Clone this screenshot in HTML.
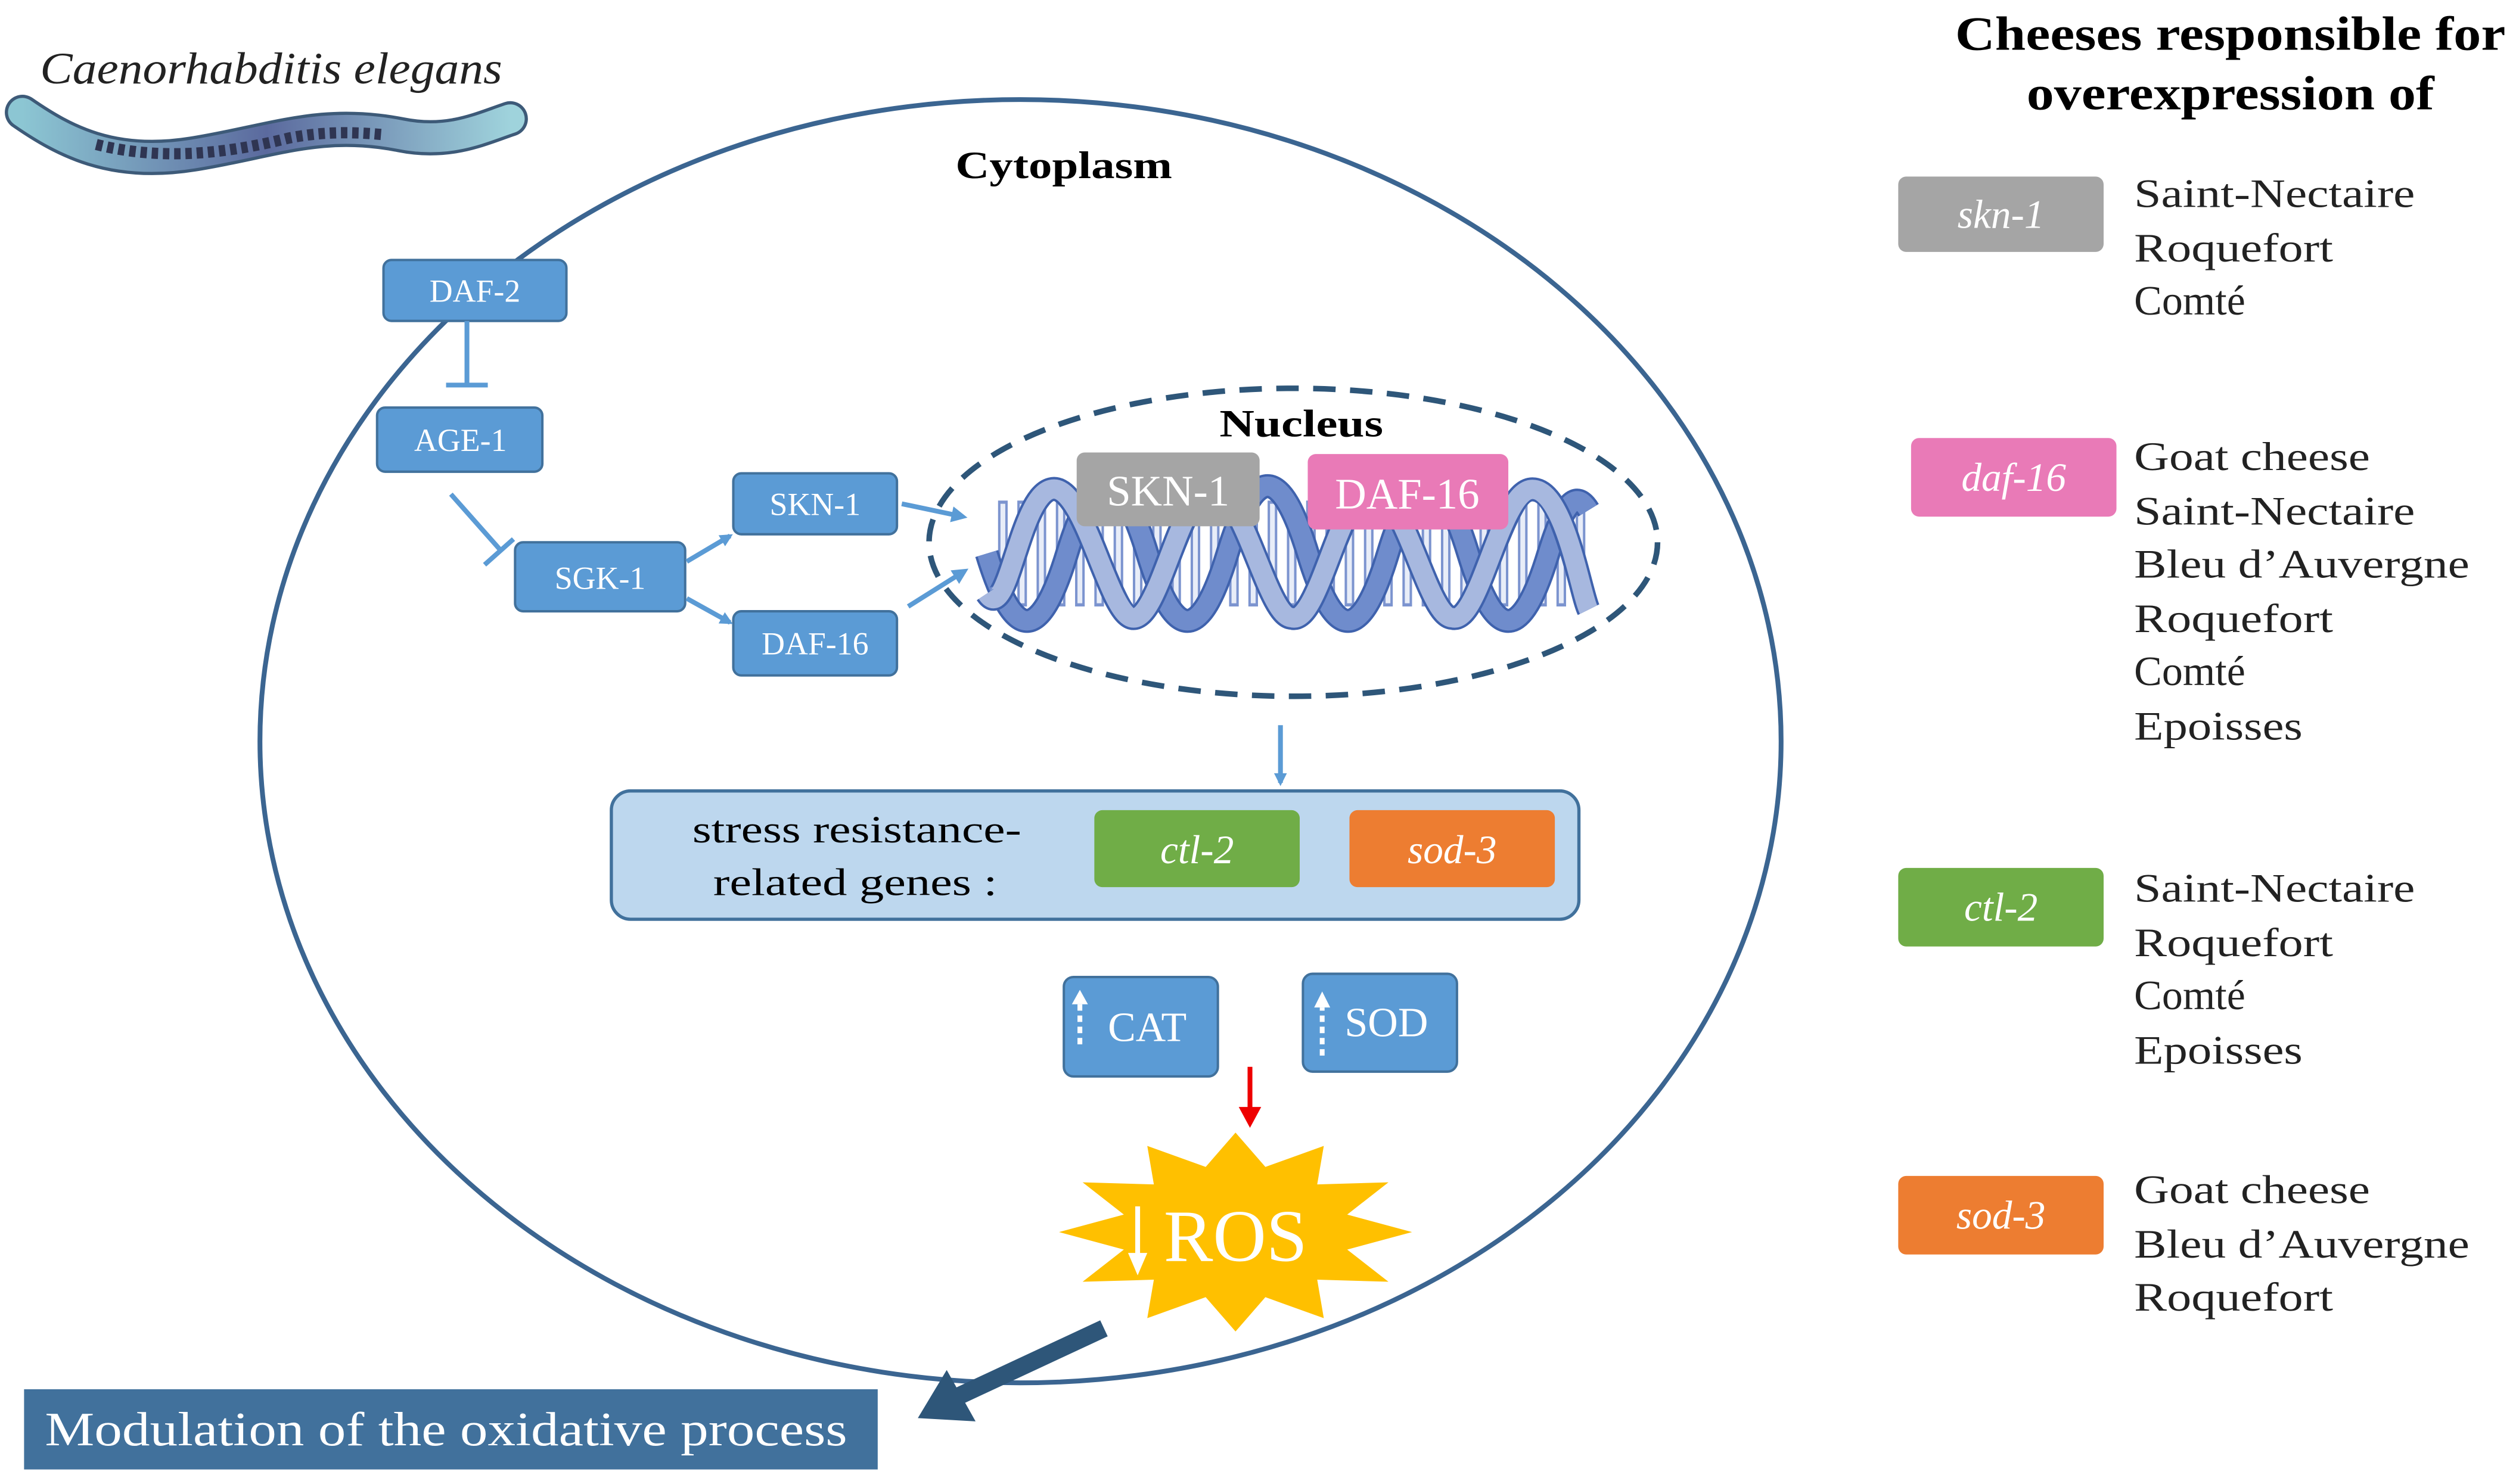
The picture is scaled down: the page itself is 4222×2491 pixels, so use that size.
<!DOCTYPE html>
<html><head><meta charset="utf-8"><style>
html,body{margin:0;padding:0;background:#fff;}
svg{display:block;}
text{font-family:"Liberation Serif",serif;}
</style></head><body>
<svg width="4222" height="2491" viewBox="0 0 1568 925" xmlns="http://www.w3.org/2000/svg">
<defs>
<marker id="ab" markerWidth="8" markerHeight="8" refX="6" refY="4" orient="auto" markerUnits="userSpaceOnUse"><path d="M0,0 L8,4 L0,8 Z" fill="#5b9bd5"/></marker>
<marker id="ab2" markerWidth="10" markerHeight="10" refX="7" refY="5" orient="auto" markerUnits="userSpaceOnUse"><path d="M0,0 L10,5 L0,10 Z" fill="#5b9bd5"/></marker>
<linearGradient id="wg" x1="0" y1="0" x2="1" y2="0"><stop offset="0" stop-color="#8cc6d3"/><stop offset="0.5" stop-color="#5b6a9e"/><stop offset="1" stop-color="#9fd3dc"/></linearGradient>
</defs>
<!-- worm -->
<text x="25" y="52" font-size="28" font-style="italic" fill="#222" textLength="288" lengthAdjust="spacingAndGlyphs">Caenorhabditis elegans</text>
<path d="M14,70 C40,88 70,104 120,96 C170,88 200,74 250,84 C280,90 300,80 318,74" fill="none" stroke="#3d5a78" stroke-width="22" stroke-linecap="round"/>
<path d="M14,70 C40,88 70,104 120,96 C170,88 200,74 250,84 C280,90 300,80 318,74" fill="none" stroke="url(#wg)" stroke-width="18" stroke-linecap="round"/>
<path d="M60,90 C100,100 140,96 180,86 C200,82 220,82 240,84" fill="none" stroke="#2f3552" stroke-width="7" stroke-dasharray="4 3"/>
<!-- cell -->
<ellipse cx="636" cy="462" rx="474" ry="400" fill="none" stroke="#3b6591" stroke-width="3"/>
<text x="663" y="111" font-size="24" font-weight="bold" text-anchor="middle" textLength="135" lengthAdjust="spacingAndGlyphs">Cytoplasm</text>
<!-- pathway boxes -->
<g font-size="20" fill="#fff" text-anchor="middle">
<rect x="239" y="162" width="114" height="38" rx="5" fill="#5b9bd5" stroke="#41719c" stroke-width="1.5"/>
<text x="296" y="188" fill="#fff">DAF-2</text>
<rect x="235" y="254" width="103" height="40" rx="5" fill="#5b9bd5" stroke="#41719c" stroke-width="1.5"/>
<text x="287" y="281" fill="#fff">AGE-1</text>
<rect x="321" y="338" width="106" height="43" rx="5" fill="#5b9bd5" stroke="#41719c" stroke-width="1.5"/>
<text x="374" y="367" fill="#fff">SGK-1</text>
<rect x="457" y="295" width="102" height="38" rx="5" fill="#5b9bd5" stroke="#41719c" stroke-width="1.5"/>
<text x="508" y="321" fill="#fff">SKN-1</text>
<rect x="457" y="381" width="102" height="40" rx="5" fill="#5b9bd5" stroke="#41719c" stroke-width="1.5"/>
<text x="508" y="408" fill="#fff">DAF-16</text>
</g>
<g stroke="#5b9bd5" stroke-width="3" fill="none">
<line x1="291" y1="200" x2="291" y2="240"/><line x1="278" y1="240" x2="304" y2="240"/>
<line x1="281" y1="308" x2="312" y2="343"/><line x1="302" y1="352" x2="320" y2="336"/>
<line x1="428" y1="350" x2="455" y2="334" marker-end="url(#ab)"/>
<line x1="428" y1="373" x2="455" y2="388" marker-end="url(#ab)"/>
<line x1="562" y1="314" x2="600" y2="322" marker-end="url(#ab2)"/>
<line x1="566" y1="378" x2="601" y2="356" marker-end="url(#ab2)"/>
<line x1="798" y1="452" x2="798" y2="488" marker-end="url(#ab)"/>
</g>
<!-- nucleus -->
<ellipse cx="806" cy="338" rx="227" ry="96" fill="none" stroke="#2e5679" stroke-width="3.5" stroke-dasharray="14 9"/>
<text x="811" y="272" font-size="24" font-weight="bold" text-anchor="middle" textLength="102" lengthAdjust="spacingAndGlyphs">Nucleus</text>
<!-- DNA -->
<g stroke="#7c94cf" stroke-width="6">
<path d="M625,312V378M637,312V378M649,312V378M661,312V378M673,312V378M685,312V378M697,312V378M709,312V378M721,312V378M733,312V378M745,312V378M757,312V378M769,312V378M781,312V378M793,312V378M805,312V378M817,312V378M829,312V378M841,312V378M853,312V378M865,312V378M877,312V378M889,312V378M901,312V378M913,312V378M925,312V378M937,312V378M949,312V378M961,312V378M973,312V378M985,312V378"/>
</g>
<g stroke="#e8edf8" stroke-width="3">
<path d="M625,314V376M637,314V376M649,314V376M661,314V376M673,314V376M685,314V376M697,314V376M709,314V376M721,314V376M733,314V376M745,314V376M757,314V376M769,314V376M781,314V376M793,314V376M805,314V376M817,314V376M829,314V376M841,314V376M853,314V376M865,314V376M877,314V376M889,314V376M901,314V376M913,314V376M925,314V376M937,314V376M949,314V376M961,314V376M973,314V376M985,314V376"/>
</g>
<g fill="none">
<path d="M615,345 C632,401 648,401 665,345 C682,289 698,289 715,345 C732,401 748,401 765,345 C782,289 798,289 815,345 C832,401 848,401 865,345 C882,289 898,289 915,345 C932,401 948,401 965,345 C975,313 982,305 990,318" stroke="#3f62ad" stroke-width="15"/>
<path d="M615,345 C632,401 648,401 665,345 C682,289 698,289 715,345 C732,401 748,401 765,345 C782,289 798,289 815,345 C832,401 848,401 865,345 C882,289 898,289 915,345 C932,401 948,401 965,345 C975,313 982,305 990,318" stroke="#6f8ccc" stroke-width="12"/>
<path d="M615,370 C628,390 635,310 655,305 C675,300 690,380 705,385 C722,390 735,305 755,305 C775,305 790,385 805,385 C822,390 835,305 855,305 C875,305 890,385 905,385 C922,390 935,305 955,305 C975,305 985,370 990,380" stroke="#3f62ad" stroke-width="15"/>
<path d="M615,370 C628,390 635,310 655,305 C675,300 690,380 705,385 C722,390 735,305 755,305 C775,305 790,385 805,385 C822,390 835,305 855,305 C875,305 890,385 905,385 C922,390 935,305 955,305 C975,305 985,370 990,380" stroke="#a7b8df" stroke-width="12"/>
</g>
<rect x="671" y="282" width="114" height="46" rx="5" fill="#a5a5a5"/>
<text x="728" y="315" font-size="27" fill="#fff" text-anchor="middle">SKN-1</text>
<rect x="815" y="283" width="125" height="47" rx="5" fill="#e97ab7"/>
<text x="877" y="317" font-size="27" fill="#fff" text-anchor="middle">DAF-16</text>
<!-- genes box -->
<rect x="381" y="493" width="603" height="80" rx="12" fill="#bdd7ee" stroke="#41719c" stroke-width="2"/>
<text x="534" y="525" font-size="24" text-anchor="middle" textLength="205" lengthAdjust="spacingAndGlyphs">stress resistance-</text>
<text x="533" y="558" font-size="24" text-anchor="middle" textLength="177" lengthAdjust="spacingAndGlyphs">related genes :</text>
<rect x="682" y="505" width="128" height="48" rx="5" fill="#70ad47"/>
<text x="746" y="538" font-size="25" font-style="italic" fill="#fff" text-anchor="middle">ctl-2</text>
<rect x="841" y="505" width="128" height="48" rx="5" fill="#ed7d31"/>
<text x="905" y="538" font-size="25" font-style="italic" fill="#fff" text-anchor="middle">sod-3</text>
<!-- CAT SOD -->
<rect x="663" y="609" width="96" height="62" rx="6" fill="#5b9bd5" stroke="#41719c" stroke-width="1.5"/>
<text x="715" y="649" font-size="26" fill="#fff" text-anchor="middle">CAT</text>
<line x1="673" y1="651" x2="673" y2="626" stroke="#fff" stroke-width="3" stroke-dasharray="4 3"/><path d="M668,626 L673,617 L678,626Z" fill="#fff"/>
<rect x="812" y="607" width="96" height="61" rx="6" fill="#5b9bd5" stroke="#41719c" stroke-width="1.5"/>
<text x="864" y="646" font-size="26" fill="#fff" text-anchor="middle">SOD</text>
<line x1="824" y1="658" x2="824" y2="628" stroke="#fff" stroke-width="3" stroke-dasharray="4 3"/><path d="M819,628 L824,618 L829,628Z" fill="#fff"/>
<!-- red arrow -->
<line x1="779" y1="665" x2="779" y2="692" stroke="#e00" stroke-width="3"/><path d="M772,690 L779,703 L786,690Z" fill="#e00"/>
<!-- ROS -->
<polygon points="880,768 839.6,778.9 865.3,799 820.9,797.7 825,821.7 788.6,808.6 770,830 751.4,808.6 715,821.7 719.1,797.7 674.7,799 700.4,778.9 660,768 700.4,757.1 674.7,737 719.1,738.3 715,714.3 751.4,727.4 770,706 788.6,727.4 825,714.3 820.9,738.3 865.3,737 839.6,757.1" fill="#ffc000"/>
<text x="770" y="786" font-size="46" fill="#fff" text-anchor="middle">ROS</text>
<line x1="709" y1="752" x2="709" y2="783" stroke="#fff" stroke-width="3"/><path d="M703,781 L709,795 L715,781Z" fill="#fff"/>
<!-- big arrow -->
<line x1="688" y1="828" x2="598" y2="870" stroke="#2e5679" stroke-width="11"/>
<path d="M572,884 L590,854 L608,886 Z" fill="#2e5679"/>
<rect x="15" y="866" width="532" height="50" fill="#41719c"/>
<text x="28" y="901" font-size="30" fill="#fff" textLength="500" lengthAdjust="spacingAndGlyphs">Modulation of the oxidative process</text>
<!-- legend -->
<text x="1390" y="31" font-size="30" font-weight="bold" text-anchor="middle" textLength="343" lengthAdjust="spacingAndGlyphs">Cheeses responsible for</text>
<text x="1390" y="68" font-size="30" font-weight="bold" text-anchor="middle" textLength="254" lengthAdjust="spacingAndGlyphs">overexpression of</text>
<g font-size="25" font-style="italic" fill="#fff" text-anchor="middle">
<rect x="1183" y="110" width="128" height="47" rx="5" fill="#a5a5a5"/><text x="1247" y="142">skn-1</text>
<rect x="1191" y="273" width="128" height="49" rx="5" fill="#e97ab7"/><text x="1255" y="306">daf-16</text>
<rect x="1183" y="541" width="128" height="49" rx="5" fill="#70ad47"/><text x="1247" y="574">ctl-2</text>
<rect x="1183" y="733" width="128" height="49" rx="5" fill="#ed7d31"/><text x="1247" y="766">sod-3</text>
</g>
<g font-size="25" fill="#222">
<text x="1330" y="129" textLength="175" lengthAdjust="spacingAndGlyphs">Saint-Nectaire</text><text x="1330" y="163" textLength="124" lengthAdjust="spacingAndGlyphs">Roquefort</text><text x="1330" y="196" font-size="26">Comté</text>
<text x="1330" y="293" textLength="147" lengthAdjust="spacingAndGlyphs">Goat cheese</text><text x="1330" y="327" textLength="175" lengthAdjust="spacingAndGlyphs">Saint-Nectaire</text><text x="1330" y="360" textLength="209" lengthAdjust="spacingAndGlyphs">Bleu d’Auvergne</text><text x="1330" y="394" textLength="124" lengthAdjust="spacingAndGlyphs">Roquefort</text><text x="1330" y="427" font-size="26">Comté</text><text x="1330" y="461" textLength="105" lengthAdjust="spacingAndGlyphs">Epoisses</text>
<text x="1330" y="562" textLength="175" lengthAdjust="spacingAndGlyphs">Saint-Nectaire</text><text x="1330" y="596" textLength="124" lengthAdjust="spacingAndGlyphs">Roquefort</text><text x="1330" y="629" font-size="26">Comté</text><text x="1330" y="663" textLength="105" lengthAdjust="spacingAndGlyphs">Epoisses</text>
<text x="1330" y="750" textLength="147" lengthAdjust="spacingAndGlyphs">Goat cheese</text><text x="1330" y="784" textLength="209" lengthAdjust="spacingAndGlyphs">Bleu d’Auvergne</text><text x="1330" y="817" textLength="124" lengthAdjust="spacingAndGlyphs">Roquefort</text>
</g>
</svg>
</body></html>
